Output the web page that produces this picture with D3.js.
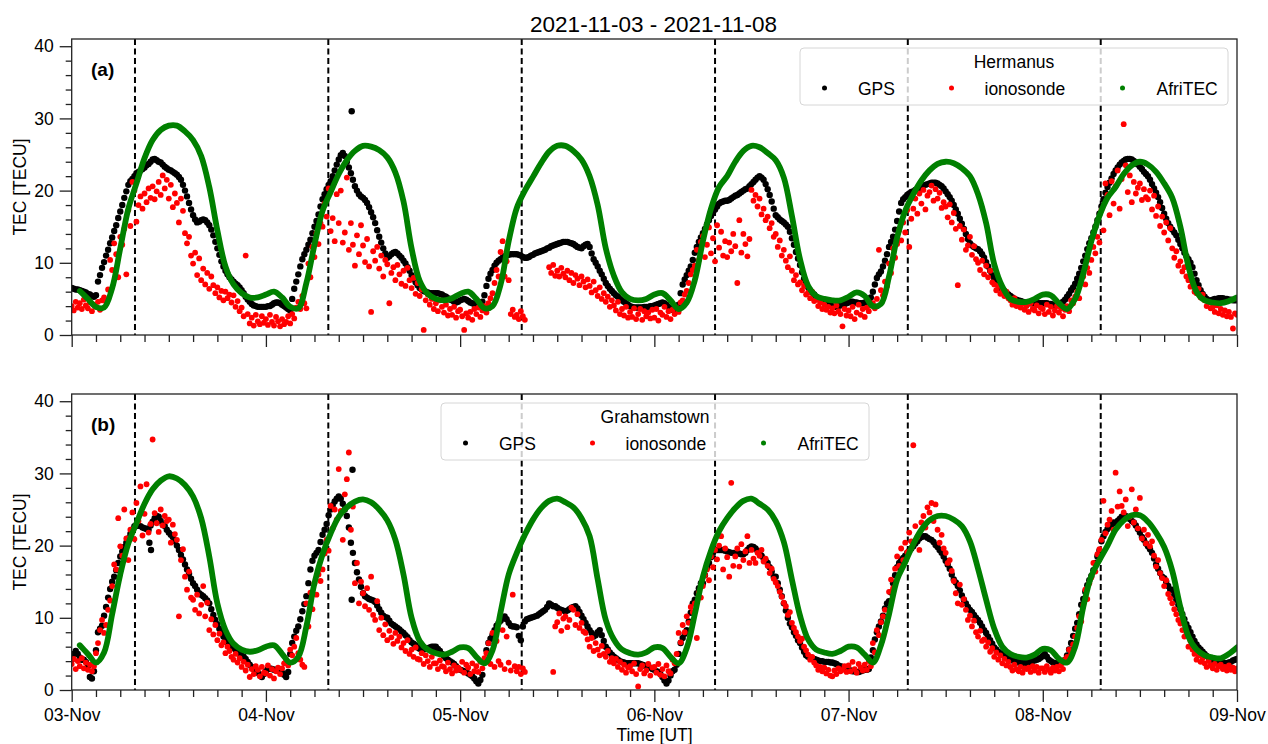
<!DOCTYPE html>
<html><head><meta charset="utf-8">
<script src="https://cdn.jsdelivr.net/npm/d3@7"></script>
<style>
body{margin:0;background:#fff;}
svg text{font-family:"Liberation Sans", Arial, sans-serif;fill:#000;}
</style></head><body>
<svg id="chart" width="1268" height="744"></svg>
<script>
// ---------------- DATA ----------------
const titleText = "2021-11-03 - 2021-11-08";
const dayLabels = ["03-Nov","04-Nov","05-Nov","06-Nov","07-Nov","08-Nov","09-Nov"];
const yTicks = [0,10,20,30,40];
const dashedHours = [7.82, 31.71, 55.61, 79.50, 103.32, 127.16];
const stations = ["Hermanus","Grahamstown"];
const seriesNames = ["GPS","ionosonde","AfriTEC"];
const sampleStep = 0.25;   // hours between GPS / ionosonde samples (from 03-Nov 00 UT)
const afriStart = 1;       // AfriTEC hourly values from 01 UT

// Hermanus GPS TEC (15-min)
const gpsA = [
6.5,6.4,6.3,6.3, 6.2,6.1,6.0,5.9, 5.7,5.6,5.4,5.3, 5.5,7.4,8.3,9.3, 10.1,11.0,11.8,12.7, 13.5,14.4,15.2,16.2, 17.1,18.0,19.0,19.9, 20.8,21.3,21.6,22.0, 22.4,22.6,22.8,23.0, 23.2,23.5,23.7,24.0, 24.3,24.4,24.2,24.0, 23.9,23.6,23.3,23.1, 22.9,22.8,22.6,22.4, 22.2,21.9,21.5,20.8, 20.0,19.2,18.3,17.4, 16.6,16.0,15.6,15.7, 15.9,16.0,15.9,15.6, 15.2,14.6,13.8,12.9, 12.0,11.1,10.2,9.5, 8.9,8.4,8.0,7.7, 7.4,7.1,6.9,6.6, 6.2,5.8,5.3,4.9, 4.6,4.3,4.1,4.0, 3.9,3.9,3.9,3.9,
3.9,4.0,4.0,4.2, 4.4,4.5,4.5,4.4, 4.2,4.0,3.8,3.6, 3.4,5.0,6.4,7.4, 8.4,9.5,10.5,11.2, 11.8,12.5,13.2,14.1, 15.0,15.8,16.7,17.8, 18.8,19.5,20.2,20.8, 21.3,22.0,22.8,23.6, 24.3,24.9,25.2,24.8, 24.0,23.2,22.4,21.5, 20.6,20.0,19.5,19.2, 19.0,18.7,18.3,17.7, 17.0,16.3,15.5,14.5, 13.6,12.8,12.0,11.3, 10.7,10.9,11.2,11.4, 11.5,11.3,11.0,10.7, 10.3,9.9,9.4,8.9, 8.3,7.8,7.3,6.9, 6.5,6.3,6.1,6.0, 5.9,5.8,5.8,5.8, 5.8,5.8,5.7,5.6, 5.4,5.3,5.1,4.9, 4.8,4.6,4.5,4.6,
4.8,4.9,5.0,4.9, 4.7,4.5,4.4,4.3, 4.3,4.3,4.4,4.6, 5.5,6.8,7.8,8.5, 9.0,9.6,10.0,10.3, 10.5,10.7,10.9,11.0, 11.1,11.2,11.2,11.2, 11.2,11.1,11.0,10.8, 10.7,10.7,10.8,11.0, 11.1,11.3,11.4,11.5, 11.6,11.7,11.8,12.0, 12.1,12.3,12.4,12.5, 12.6,12.7,12.8,12.9, 12.9,12.9,12.8,12.7, 12.6,12.4,12.2,12.1, 12.0,12.3,12.5,12.6, 12.2,11.3,10.5,10.0, 9.5,8.9,8.4,7.8, 7.2,6.8,6.4,6.1, 5.8,5.5,5.3,5.0, 4.8,4.6,4.4,4.2, 4.0,3.9,3.8,3.8, 3.8,3.8,3.8,3.9, 3.9,3.9,4.0,4.0,
4.1,4.2,4.3,4.4, 4.5,4.4,4.2,3.9, 3.7,3.5,3.4,3.6, 4.2,5.8,7.0,7.7, 8.3,8.9,9.5,10.4, 11.4,12.2,12.9,13.5, 14.1,14.7,15.3,15.9, 16.5,17.0,17.4,17.8, 18.2,18.4,18.5,18.6, 18.6,18.7,18.9,19.1, 19.3,19.4,19.6,19.8, 20.0,20.2,20.3,20.6, 20.9,21.2,21.5,21.8, 22.0,21.8,21.5,20.9, 20.2,19.4,18.5,17.5, 16.6,16.3,16.0,15.8, 15.6,15.3,15.0,14.3, 13.4,12.5,11.5,10.6, 9.7,8.7,7.8,7.2, 6.6,6.2,5.9,5.6, 5.3,5.0,4.8,4.6, 4.5,4.3,4.2,4.1, 4.0,3.9,3.9,4.0, 4.1,4.2,4.3,4.4,
4.5,4.6,4.6,4.5, 4.5,4.4,4.4,4.4, 4.5,4.6,4.8,5.2, 6.0,7.0,7.9,8.4, 8.8,9.5,10.3,11.2, 12.2,12.9,13.6,14.6, 15.8,17.1,18.3,18.8, 19.1,19.4,19.6,19.8, 19.9,20.1,20.2,20.4, 20.5,20.7,20.8,20.9, 21.0,21.1,21.1,21.1, 21.0,20.8,20.6,20.3, 19.9,19.5,19.1,18.6, 18.0,17.4,16.8,16.1, 15.4,14.7,14.0,13.3, 12.7,12.4,12.2,12.0, 11.9,11.6,11.2,10.7, 10.1,9.5,8.9,8.3, 7.8,7.3,6.9,6.6, 6.3,6.1,5.9,5.6, 5.4,5.2,5.0,4.9, 4.8,4.7,4.6,4.5, 4.5,4.4,4.4,4.4, 4.4,4.4,4.4,4.4,
4.4,4.4,4.4,4.3, 4.3,4.2,4.2,4.2, 4.2,4.4,4.6,4.9, 5.3,5.7,6.2,6.6, 7.1,7.8,8.5,9.3, 10.2,11.0,11.9,12.7, 13.4,14.2,15.0,15.9, 16.8,17.8,18.8,19.7, 20.5,21.1,21.7,22.3, 22.8,23.2,23.6,23.9, 24.1,24.3,24.4,24.4, 24.3,24.1,23.9,23.6, 23.3,23.0,22.6,22.3, 22.0,21.5,20.9,20.3, 19.7,19.1,18.4,17.6, 16.8,16.1,15.5,15.0, 14.6,14.2,13.8,13.2, 12.6,12.0,11.4,10.9, 10.5,10.0,9.4,8.5, 7.6,6.9,6.2,5.7, 5.3,5.0,4.8,4.8, 4.9,5.0,5.0,5.1, 5.1,5.1,5.0,5.0, 4.9,4.9,4.8,4.8,
4.8];
const gpsExtraHoursA = [34.6];
const gpsExtraValuesA = [31.0];

// Hermanus ionosonde TEC (15-min, null = no data)
const ionoA = [
4.0,3.4,4.6,3.8, 4.4,3.6,4.9,4.1, 3.7,4.5,3.3,4.2, 3.9,4.6,3.5,4.8, 5.2,4.6,6.3,10.4, 9.0,12.7,11.2,8.0, 13.6,12.5,14.7,8.4, 17.3,15.1,21.2,20.0, 15.7,18.0,19.2,17.5, 19.6,18.4,20.3,19.0, 20.6,18.8,19.9,21.2, 19.4,22.1,20.3,21.5, 18.9,20.8,17.7,19.6, 18.3,15.6,18.9,17.2, 14.1,12.7,13.6,11.0, 9.9,11.4,8.3,10.6, 7.6,9.2,7.0,8.6, 6.4,8.1,6.9,5.8, 6.6,5.2,6.1,4.8, 6.0,5.1,5.6,4.5, 5.5,3.9,4.7,3.3, 3.8,2.6,11.0,2.9, 1.6,2.4,1.3,2.8, 1.9,1.5,2.6,1.7,
2.2,1.4,2.8,1.8, 1.3,2.5,1.9,1.2, 2.2,1.5,1.8,2.6, 1.6,2.9,2.3,3.8, 4.6,3.6,5.4,4.4, 3.7,9.9,8.0,12.2, 10.8,14.1,12.6,15.5, 15.0,18.2,16.4,20.3, 14.4,16.2,13.0,19.5, 15.5,20.0,12.8,14.2, 21.8,11.8,15.5,12.5, 9.6,13.8,11.2,15.2, 12.4,10.1,13.3,9.5, 3.2,11.6,10.3,12.2, 9.2,11.0,8.1,10.4, 9.8,4.4,8.6,9.4, 7.6,9.7,8.4,7.1, 8.9,6.8,9.3,7.6, 6.5,7.9,5.7,7.2, 5.4,6.3,0.7,4.8, 5.6,4.2,5.0,3.6, 4.4,3.3,4.8,3.9, 3.1,4.2,2.7,3.6, 2.8,3.9,2.4,3.3,
3.5,2.6,0.7,3.0, 2.4,3.2,2.1,3.6, 2.9,3.8,2.5,3.4, 4.0,3.1,4.4,5.1, 5.8,7.2,9.0,8.1, 11.5,13.0,8.1,10.2, 7.6,2.9,3.5,2.5, 2.8,2.2,3.3,2.6, 2.1,null,null,null, null,null,null,null, null,null,null,null, 9.4,8.6,9.7,8.2, 8.9,8.1,9.3,8.5, 8.0,8.9,7.6,8.6, 7.2,8.3,7.8,6.9, 8.1,7.4,6.6,7.7, 6.8,5.9,7.4,6.2, 5.4,6.6,5.0,5.8, 4.6,5.3,3.9,4.8, 4.1,3.4,4.6,2.9, 3.6,2.7,3.9,2.4, 3.2,2.5,3.7,2.2, 2.9,3.6,2.1,3.3, 2.6,3.1,2.3,3.5,
2.4,3.6,2.0,3.1, 2.8,3.9,2.5,3.3, 2.2,3.5,2.9,3.8, 3.2,4.5,4.8,5.6, 6.1,7.2,8.4,9.0, 9.6,11.8,10.4,12.9, 13.7,10.8,12.5,14.9, 11.3,13.4,10.2,15.2, 12.1,14.3,11.0,13.0, 10.8,12.8,11.6,14.0, 12.3,7.2,15.9,11.4, 14.0,12.6,10.9,13.3, 20.1,18.6,19.4,17.8, 18.9,16.7,17.5,15.9, 16.4,14.8,15.5,13.6, 14.0,12.2,13.1,11.0, 11.8,10.3,9.4,10.9, 8.9,7.6,8.3,7.0, 7.3,6.2,6.8,5.6, 5.9,5.1,6.0,4.7, 4.9,4.0,4.5,3.6, 4.2,3.5,3.9,3.1, 3.7,3.0,4.1,3.3, 2.9,1.2,3.6,2.7,
3.4,2.6,3.9,2.2, 3.1,4.2,2.8,3.6, 2.5,3.8,3.3,4.1, 4.4,3.7,5.0,11.8, 6.2,5.5,7.4,6.8, 9.9,8.6,12.0,10.7, 12.6,14.5,13.1,15.6, 14.2,17.3,12.2,16.1, 17.5,18.9,16.8,19.6, 18.2,20.1,17.4,19.3, 19.8,20.7,18.6,20.2, 18.9,19.7,17.6,18.4, 17.8,16.3,18.1,15.6, 16.9,14.7,6.9,15.1, 13.2,14.6,11.8,12.4, 13.6,11.1,12.3,10.5, 10.0,9.0,10.3,8.4, 9.6,8.0,8.9,7.3, 7.0,6.2,6.8,5.7, 6.3,5.4,6.0,5.1, 4.8,4.2,5.1,4.0, 4.6,3.8,4.3,3.5, 4.0,3.2,4.4,3.6, 3.4,4.1,3.0,3.8,
3.6,2.9,4.2,3.2, 3.9,2.7,3.4,4.0, 3.1,3.7,2.6,3.5, 4.0,3.3,4.8,4.4, 5.3,6.0,5.1,7.2, 8.1,7.0,9.3,8.6, 10.4,12.2,11.3,13.6, 12.8,17.3,14.5,21.0, 19.4,16.6,21.3,18.2, 20.6,22.8,17.5,21.6, 29.2,23.5,19.8,22.1, 18.4,21.2,19.6,20.4, 21.0,18.7,20.2,19.1, 18.8,20.0,17.4,19.3, 16.5,17.8,15.1,16.4, 14.2,15.6,13.1,14.8, 12.0,10.7,11.6,9.6, 10.2,8.8,9.4,8.1, 7.6,6.7,7.2,6.0, 5.8,6.4,5.2,5.6, 4.8,4.0,4.5,3.7, 3.9,3.2,4.1,3.0, 3.6,2.8,3.4,2.6, 3.2,2.5,0.9,3.0,
2.8];

// Hermanus AfriTEC (hourly, 01..144 UT)
const afriA = [
6.1,5.0,3.9,3.8,6.5,12.0,17.5,21.0,24.5,27.0,28.4,29.0,29.0,28.2,27.0,24.8,20.5,14.5,9.5,7.0,5.8,5.2,5.2,5.6,
6.0,5.2,3.9,3.7,7.2,12.5,17.2,19.8,22.3,24.2,25.5,26.2,26.1,25.6,24.6,22.5,18.5,12.0,7.5,5.7,5.0,4.8,5.1,5.7,
6.0,5.0,3.7,4.0,7.0,13.0,17.6,20.0,21.9,23.8,25.4,26.2,26.2,25.5,24.3,22.0,18.0,12.0,8.2,5.9,5.0,4.8,5.0,5.6,
5.8,4.8,3.6,4.5,7.6,13.0,17.5,20.5,22.0,24.0,25.5,26.2,26.0,25.2,24.2,21.8,16.5,10.5,6.8,5.4,5.0,4.8,4.8,5.3,
5.9,5.4,4.0,4.3,8.1,13.5,17.2,19.5,21.4,22.8,23.7,24.0,23.8,23.1,22.0,19.5,15.5,9.8,6.7,5.0,4.6,4.6,5.0,5.6,
5.5,4.4,3.6,5.0,8.5,13.0,16.5,19.0,20.5,22.3,23.5,24.0,23.6,22.6,21.0,19.0,15.0,9.5,6.0,4.8,4.5,4.4,4.7,5.2];

// Grahamstown GPS TEC (15-min)
const gpsB = [
4.2,5.0,5.4,5.0, 4.5,4.2,4.2,3.9, 3.3,1.8,1.6,2.6, 5.5,8.0,8.5,8.9, 10.3,11.5,12.8,14.0, 15.0,15.7,16.6,17.6, 18.5,19.2,19.8,20.4, 21.0,21.6,22.2,22.7, 22.7,22.8,22.7,22.5, 22.4,22.3,22.2,22.8, 23.3,23.8,24.1,24.0, 23.4,22.9,22.7,22.2, 21.8,21.5,21.2,20.6, 20.0,19.4,18.7,18.1, 17.4,16.7,16.1,15.4, 14.8,14.4,13.9,13.4, 13.2,13.0,12.7,12.4, 12.0,11.2,10.4,9.7, 9.1,8.5,8.0,7.4, 6.9,6.6,6.3,6.0, 5.8,5.6,5.3,5.0, 4.8,4.6,4.3,3.9, 3.5,3.2,2.9,2.6, 2.4,2.1,1.8,2.2,
2.6,2.9,3.0,2.9, 2.8,2.8,2.7,2.6, 2.4,2.1,1.8,2.5, 5.0,6.5,7.4,8.2, 8.8,9.8,10.9,11.9, 13.0,14.8,16.7,17.9, 18.6,19.0,19.4,20.5, 21.5,22.2,23.0,24.2, 25.0,25.6,26.1,26.5, 26.8,26.5,25.8,25.0, 24.1,22.5,20.4,19.0, 17.6,16.3,15.3,14.3, 13.4,13.0,12.8,12.6, 12.5,12.4,12.2,11.7, 11.2,10.7,10.3,10.1, 10.0,9.6,9.2,9.0, 8.8,8.6,8.4,8.1, 7.9,7.6,7.3,6.9, 6.6,6.4,6.2,5.9, 5.7,5.6,5.6,5.7, 5.8,5.9,6.0,6.0, 6.0,5.7,5.4,5.0, 4.7,4.4,4.2,4.0, 3.8,3.6,3.3,3.0,
2.8,2.7,2.6,2.5, 2.3,2.1,1.9,1.6, 1.2,0.9,1.4,2.1, 4.0,5.5,6.5,7.1, 7.6,8.3,8.9,9.3, 9.6,9.9,10.2,9.8, 9.3,8.9,8.8,8.8, 8.7,7.5,6.9,8.8, 9.5,9.8,9.9,10.0, 10.1,10.2,10.3,10.5, 10.7,10.9,11.1,11.5, 12.0,11.8,11.6,11.6, 11.4,11.2,11.1,11.0, 10.9,11.0,11.2,11.4, 11.5,11.6,11.3,10.8, 10.3,9.8,9.3,8.8, 8.3,7.9,7.4,7.6, 8.0,8.3,7.6,6.8, 6.0,5.6,5.2,4.9, 4.6,4.4,4.2,4.0, 3.9,3.8,3.7,3.7, 3.7,3.7,3.7,3.7, 3.7,3.6,3.5,3.4, 3.3,3.2,3.1,2.9,
2.8,2.6,2.5,2.2, 1.8,1.3,0.9,1.3, 2.0,2.6,2.8,3.5, 5.0,6.5,7.2,7.8, 8.3,9.5,10.7,12.0, 12.5,13.4,14.1,14.8, 14.8,15.9,17.0,17.6, 18.4,19.0,19.4,19.4, 19.4,19.4,19.4,19.3, 19.2,19.1,19.0,19.0, 19.0,18.9,18.9,18.8, 18.8,19.0,19.4,19.7, 19.9,19.8,19.6,19.3, 19.0,18.6,18.2,17.9, 17.6,17.0,16.4,15.7, 15.7,14.8,13.9,13.0, 12.0,11.0,10.0,9.2, 8.7,8.0,7.5,6.9, 6.5,5.9,5.3,4.8, 4.6,4.5,4.4,4.3, 4.2,4.1,4.0,4.0, 3.9,3.9,3.9,3.8, 3.8,3.7,3.6,3.4, 3.3,3.2,3.0,2.9,
2.8,2.7,2.6,2.6, 2.5,2.5,2.6,2.7, 2.8,2.8,2.9,4.5, 5.5,7.0,8.0,8.8, 9.5,10.3,11.3,12.0, 12.3,13.5,14.8,15.9, 17.0,17.6,18.0,18.3, 18.6,19.0,19.3,19.6, 19.9,20.3,20.6,21.0, 21.2,21.3,21.3,21.1, 20.9,20.8,20.5,20.1, 19.8,19.4,19.0,18.5, 17.9,17.4,16.8,16.0, 15.3,14.9,14.4,13.8, 13.1,12.5,12.0,11.5, 11.1,10.8,10.4,10.0, 9.7,9.3,8.8,8.3, 7.9,7.4,6.9,6.4, 5.9,5.6,5.3,5.1, 5.0,4.8,4.6,4.4, 4.2,4.1,4.0,3.9, 3.8,3.8,3.7,3.7, 3.7,3.8,3.9,4.0, 4.1,4.2,4.3,4.5,
4.7,5.0,4.6,4.2, 4.0,3.8,3.7,3.7, 3.8,3.9,4.0,4.2, 4.8,5.6,6.5,7.5, 8.5,9.3,10.5,11.8, 12.6,13.6,14.5,15.2, 15.8,16.6,17.6,18.5, 19.3,20.6,21.3,21.9, 22.3,22.6,22.9,23.2, 23.1,23.4,23.7,24.0, 24.1,24.1,23.9,23.7, 23.4,23.2,22.8,22.3, 21.8,21.2,20.8,20.3, 19.9,19.5,19.0,18.2, 17.4,16.8,16.2,15.7, 15.5,15.0,14.4,13.9, 13.9,13.2,12.5,11.8, 11.2,10.5,9.8,9.1, 8.6,8.0,7.4,6.8, 6.3,5.9,5.6,5.3, 5.0,4.7,4.5,4.4, 4.2,4.1,4.0,3.9, 3.8,3.8,3.7,3.7, 3.8,3.9,4.1,4.2,
4.3];
const gpsExtraHoursB = [9.6, 9.8, 34.6, 34.7];
const gpsExtraValuesB = [20.4, 19.4, 12.5, 30.5];

// Grahamstown ionosonde TEC (15-min, null = no data)
const ionoB = [
3.6,4.3,2.9,4.0, 3.3,4.4,3.0,3.8, 2.8,3.5,2.6,3.3, 5.1,6.5,8.3,9.7, 7.9,9.0,11.1,12.4, 14.4,17.4,16.7,23.8, 19.9,18.6,25.0,21.0, 18.0,22.2,24.6,20.9, 25.9,23.4,28.2,21.4, 24.4,28.5,21.8,23.0, 34.7,24.5,23.1,21.9, 25.0,22.8,24.1,23.4, 23.6,20.4,22.9,21.6, 20.8,10.2,18.0,19.5, 15.7,13.9,16.4,12.8, 12.5,11.1,13.2,10.6, 11.8,14.4,10.2,12.1, 8.3,9.8,7.7,9.0, 6.9,7.8,6.2,6.6, 5.1,6.0,5.4,4.6, 4.2,5.0,3.8,4.4, 3.2,3.9,2.7,3.5, 1.8,2.9,2.2,3.3, 2.8,1.9,3.2,2.4,
2.3,3.4,2.0,2.9, 1.6,2.6,3.1,2.2, 3.0,3.7,4.2,3.4, 5.6,4.8,6.0,7.2, 5.1,4.2,3.5,3.2, 12.0,8.8,13.5,11.2, 14.8,13.2,16.0,15.1, 16.7,18.9,20.8,19.3, 25.5,22.4,25.0,23.6, 30.6,24.8,20.8,27.1, 29.2,32.9,22.2,25.4, 14.8,17.6,12.0,15.0, 13.4,11.6,14.1,11.1, 15.7,10.4,9.7,12.3, 8.3,10.0,7.6,9.1, 6.9,8.2,7.3,6.4, 7.9,6.8,7.4,5.9, 6.5,5.4,6.9,5.0, 5.6,4.6,5.9,4.3, 4.2,5.1,3.6,4.8, 4.0,3.2,4.6,3.7, 3.7,2.9,4.1,3.3, 3.2,2.6,3.8,2.9, 2.3,3.4,2.7,3.1,
2.8,3.9,2.4,3.5, 3.1,2.2,3.7,2.6, 3.3,2.5,3.9,3.0, 4.4,5.1,6.5,3.6, 7.9,3.2,6.8,4.0, 3.5,8.3,2.9,7.4, 3.8,2.7,13.2,3.3, 2.6,3.2,2.2,3.0, 2.5,null,null,null, null,null,null,null, null,null,null,null, null,null,2.5,8.8, 9.4,10.6,8.2,9.9, 10.2,8.7,9.7,11.4, 11.1,9.0,10.5,8.6, 9.3,8.1,7.9,7.0, 6.0,7.2,5.4,6.5, 5.6,4.8,6.1,5.0, 4.6,5.4,3.9,4.4, 3.7,4.3,3.2,3.9, 2.8,3.5,2.4,3.1, 3.3,2.6,3.7,2.2, 0.5,2.9,3.4,2.3, 2.7,3.6,2.0,3.1,
3.2,2.4,3.6,2.1, 2.9,1.9,3.4,2.6, 2.3,4.2,3.7,5.0, 7.9,6.6,9.0,8.0, 10.2,9.3,11.5,10.8, 12.0,7.2,13.5,12.8, 14.4,15.9,16.7,15.2, 18.5,17.0,19.4,18.1, 20.0,21.3,16.7,19.6, 18.4,15.7,28.7,17.2, 18.5,19.6,17.1,20.2, 18.0,19.2,21.3,17.6, 19.4,18.2,17.6,19.0, 18.6,19.4,17.8,18.2, 17.2,16.2,16.8,15.4, 14.9,14.4,13.6,12.9, 12.1,11.6,10.4,10.8, 9.3,8.6,8.0,7.4, 6.8,7.1,6.0,5.5, 4.9,4.2,4.6,3.8, 3.4,2.8,3.2,2.6, 3.1,2.3,2.8,2.0, 1.9,2.7,2.2,3.0, 2.6,2.8,3.3,2.5,
3.4,2.6,3.9,2.9, 2.4,3.6,3.1,2.7, 3.5,2.8,4.0,3.3, 6.5,5.2,8.3,7.6, 9.4,10.2,11.1,10.0, 13.6,15.3,14.1,16.8, 18.5,17.2,19.6,18.0, 20.4,19.1,21.8,20.6, 33.9,22.7,21.2,19.4, 23.2,24.1,22.5,25.3, 24.6,25.9,23.4,25.7, 22.2,20.4,21.5,19.6, 19.0,17.6,18.0,16.5, 15.1,13.4,12.0,14.6, 11.8,12.6,11.1,9.7, 10.3,8.8,9.6,8.0, 7.4,8.2,6.8,7.0, 6.0,6.6,5.3,5.8, 4.6,5.2,4.2,4.8, 3.7,4.3,3.4,3.9, 3.2,2.7,3.5,2.9, 2.6,3.2,2.4,3.0, 2.9,3.1,2.5,3.3, 2.7,3.2,2.4,3.0,
3.0,2.5,3.3,2.8, 2.4,3.1,2.7,3.2, 2.6,3.4,2.9,4.2, 4.6,5.6,5.0,6.3, 7.4,8.6,10.2,9.5, 11.8,13.9,12.6,14.8, 15.6,17.6,16.4,18.8, 19.5,20.8,26.2,21.7, 22.9,23.6,24.8,22.2, 30.1,25.4,27.5,25.5, 24.6,26.4,22.7,24.0, 27.8,23.2,25.0,22.4, 26.6,21.0,22.2,20.3, 21.5,19.9,20.6,18.6, 17.1,18.0,16.2,15.5, 14.4,15.2,13.3,12.7, 12.0,11.2,10.5,9.7, 9.2,8.3,7.4,7.9, 6.0,6.8,5.6,5.0, 4.2,4.8,3.9,4.4, 3.7,3.2,4.0,3.4, 3.0,3.6,2.8,3.3, 3.5,2.9,3.2,2.7, 3.4,2.8,3.1,2.6,
3.0];

// Grahamstown AfriTEC (hourly, 01..144 UT)
const afriB = [
6.2,5.0,3.8,5.2,10.5,16.0,20.3,23.1,25.8,27.8,29.0,29.6,29.3,28.4,26.8,23.8,18.5,12.0,8.3,6.4,5.6,5.3,5.5,6.0,
6.2,5.0,3.8,4.6,8.8,14.8,18.8,21.7,24.0,25.3,26.1,26.4,26.0,25.0,23.5,20.8,16.0,10.0,6.8,5.6,5.1,4.9,5.3,5.9,
5.8,4.6,3.7,5.5,10.8,16.0,19.0,21.5,23.6,25.2,26.2,26.5,26.0,25.3,23.8,21.3,15.3,9.7,7.0,5.6,5.1,4.9,5.2,5.9,
5.8,4.6,3.7,5.8,10.5,15.7,19.3,22.0,23.8,25.2,26.2,26.5,25.8,25.0,23.4,20.5,15.3,10.3,7.0,5.6,5.2,5.0,5.4,6.0,
5.9,4.9,3.8,6.2,10.5,15.3,17.7,20.2,22.2,23.5,24.1,24.1,23.6,22.7,20.6,16.8,12.5,8.5,6.0,5.0,4.6,4.5,4.9,5.7,
5.5,4.3,3.8,6.0,11.5,15.8,18.0,20.0,22.2,23.5,24.2,24.2,23.3,21.8,19.8,16.5,11.5,7.4,5.6,4.8,4.5,4.4,5.0,5.9];

// ---------------- DRAWING ----------------
const svg = d3.select("#chart");
const X0 = 71.7, X1 = 1237;
const panels = [
  {top:39, bottom:335, gps:gpsA, gx:gpsExtraHoursA, gv:gpsExtraValuesA, iono:ionoA, afri:afriA,
   label:"(a)", station:stations[0], legend:{L:800, T:48}, showX:false},
  {top:394, bottom:690, gps:gpsB, gx:gpsExtraHoursB, gv:gpsExtraValuesB, iono:ionoB, afri:afriB,
   label:"(b)", station:stations[1], legend:{L:441, T:403}, showX:true}
];
const x = d3.scaleLinear().domain([0,144]).range([X0, X1]);
const colors = {gps:"#000000", iono:"#ff0000", afri:"#008000"};
const Rgps = 3.2, Riono = 2.9;

svg.append("text").attr("x", 653.5).attr("y", 32).attr("text-anchor","middle")
  .style("font-size","22.5px").text(titleText);

panels.forEach((p, pi) => {
  const y = d3.scaleLinear().domain([0,41]).range([p.bottom, p.top]);
  const g = svg.append("g");
  const clipId = "clip"+pi;
  svg.append("defs").append("clipPath").attr("id", clipId).append("rect")
    .attr("x", X0).attr("y", p.top).attr("width", X1-X0).attr("height", p.bottom-p.top);

  // dashed vertical lines
  g.selectAll(".dash").data(dashedHours).enter().append("line")
    .attr("x1", d=>x(d)).attr("x2", d=>x(d)).attr("y1", p.top).attr("y2", p.bottom)
    .attr("stroke","#000").attr("stroke-width",2).attr("stroke-dasharray","6,3.5");

  const data = g.append("g").attr("clip-path", `url(#${clipId})`);
  const gpsPts = p.gps.map((v,i)=>({h:i*sampleStep, v}))
    .concat(p.gx.map((h,i)=>({h, v:p.gv[i]})));
  data.append("g").selectAll("circle").data(gpsPts).enter().append("circle")
    .attr("cx", d=>x(d.h)).attr("cy", d=>y(d.v)).attr("r", Rgps).attr("fill", colors.gps);
  const ionoPts = p.iono.map((v,i)=>({h:i*sampleStep, v})).filter(d=>d.v!==null);
  data.append("g").selectAll("circle").data(ionoPts).enter().append("circle")
    .attr("cx", d=>x(d.h)).attr("cy", d=>y(d.v)).attr("r", Riono).attr("fill", colors.iono);
  const afriPts = p.afri.map((v,i)=>({h:afriStart+i, v}));
  const line = d3.line().x(d=>x(d.h)).y(d=>y(d.v)).curve(d3.curveCatmullRom.alpha(0.5));
  data.append("path").datum(afriPts).attr("d", line).attr("fill","none")
    .attr("stroke", colors.afri).attr("stroke-width", 5.8).attr("stroke-linecap","round");

  // axes
  const xMajor = d3.axisBottom(x).tickValues(d3.range(0,145,24)).tickSize(12).tickSizeOuter(0).tickPadding(7)
    .tickFormat((d,i)=> p.showX ? dayLabels[i] : "");
  const xMinor = d3.axisBottom(x).tickValues(d3.range(0,145,3).filter(d=>d%24!==0)).tickSize(7).tickSizeOuter(0).tickFormat("");
  const yMajor = d3.axisLeft(y).tickValues(yTicks).tickSize(12).tickSizeOuter(0).tickPadding(6);
  const yMinor = d3.axisLeft(y).tickValues(d3.range(0,41,2).filter(d=>d%10!==0)).tickSize(6).tickSizeOuter(0).tickFormat("");
  [ [xMajor,`translate(0,${p.bottom})`], [xMinor,`translate(0,${p.bottom})`],
    [yMajor,`translate(${X0},0)`], [yMinor,`translate(${X0},0)`] ].forEach(([ax,tr])=>{
    const a = g.append("g").attr("transform", tr).call(ax);
    a.select(".domain").remove();
    a.selectAll("line").attr("stroke","#222").attr("stroke-width",1.3);
    a.selectAll("text").style("font-size","17.5px").attr("fill","#000");
  });
  // frame
  g.append("rect").attr("x", X0).attr("y", p.top).attr("width", X1-X0).attr("height", p.bottom-p.top)
    .attr("fill","none").attr("stroke","#222").attr("stroke-width",1.3);

  // y label
  svg.append("text").attr("transform", `translate(25.5,${(p.top+p.bottom)/2}) rotate(-90)`)
    .attr("text-anchor","middle").style("font-size","17.5px").text("TEC [TECU]");
  // panel label
  svg.append("text").attr("x", 91).attr("y", p.top+37).style("font-size","19px")
    .style("font-weight","bold").text(p.label);

  // legend
  const L = p.legend.L, T = p.legend.T;
  const lg = svg.append("g");
  lg.append("rect").attr("x", L).attr("y", T).attr("width", 428).attr("height", 57).attr("rx", 4)
    .attr("fill","#fff").attr("fill-opacity",0.8).attr("stroke","#d6d6d6").attr("stroke-width",1);
  lg.append("text").attr("x", L+214).attr("y", T+20).attr("text-anchor","middle")
    .style("font-size","17.5px").text(p.station);
  const items = [
    {name:seriesNames[0], c:colors.gps, mx:24.5, tx:58},
    {name:seriesNames[1], c:colors.iono, mx:151.5, tx:184.5},
    {name:seriesNames[2], c:colors.afri, mx:322.5, tx:356.5}
  ];
  items.forEach(it=>{
    lg.append("circle").attr("cx", L+it.mx).attr("cy", T+40).attr("r", 2.5).attr("fill", it.c);
    lg.append("text").attr("x", L+it.tx).attr("y", T+46.5).style("font-size","17.5px").text(it.name);
  });
});

svg.append("text").attr("x", 654.5).attr("y", 741).attr("text-anchor","middle")
  .style("font-size","17.5px").text("Time [UT]");
</script>
</body></html>
